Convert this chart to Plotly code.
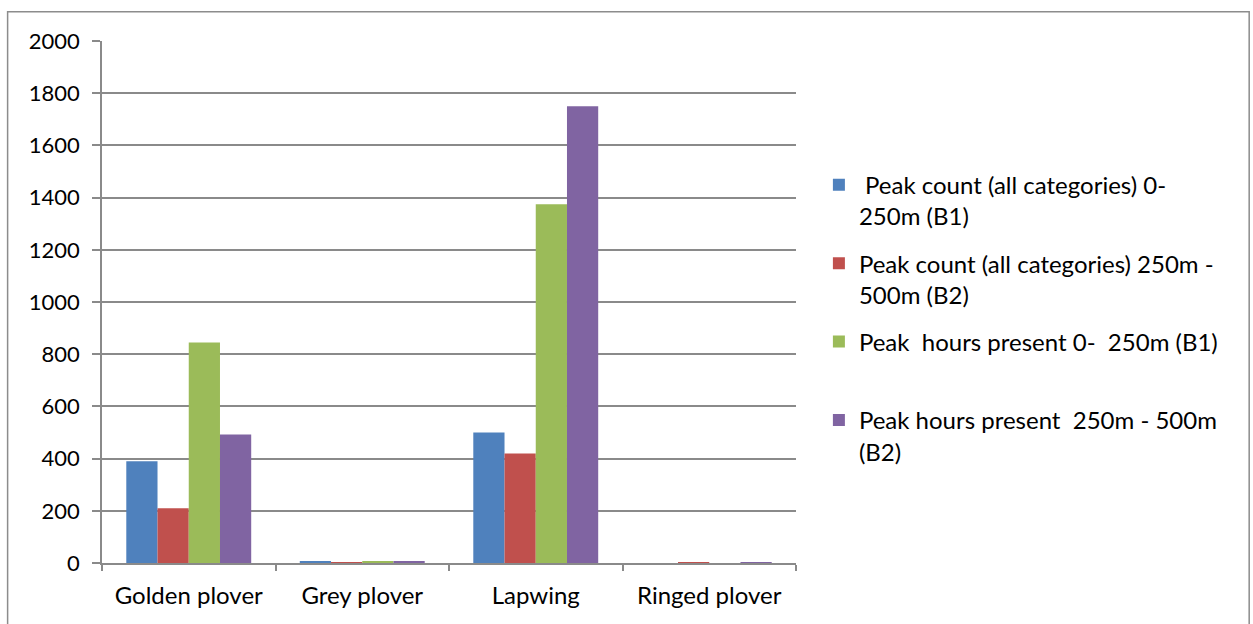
import plotly.graph_objects as go

species = ["Golden plover", "Grey plover", "Lapwing", "Ringed plover"]

count_b1 = [390, 5, 500, 0]
count_b2 = [210, 2, 420, 2]
hours_b1 = [845, 4, 1375, 0]
hours_b2 = [492, 7, 1750, 2]

series_names = [
    "\u00a0Peak count (all categories) 0-<br>250m (B1)",
    "Peak count (all categories) 250m -<br>500m (B2)",
    "Peak  hours present 0-  250m (B1)<br>\u00a0",
    "Peak hours present  250m - 500m<br>(B2)",
]
series_values = [count_b1, count_b2, hours_b1, hours_b2]
series_colors = ["#4F81BD", "#C0504D", "#9BBB59", "#8064A2"]

y_ticks = list(range(0, 2001, 200))

fig = go.Figure()
for i, (name, vals, col) in enumerate(zip(series_names, series_values, series_colors)):
    fig.add_trace(go.Bar(
        x=species, y=vals, name=name,
        marker=dict(color=col, line=dict(width=0)),
        legendgroup=f"g{i}",
    ))

font_family = "Lato, 'Liberation Sans', sans-serif"
grid_col = "#8a8a8a"

fig.update_layout(
    width=1253, height=624,
    autosize=False,
    barmode="group",
    bargap=0.28,
    bargroupgap=0,
    paper_bgcolor="white",
    plot_bgcolor="white",
    margin=dict(l=102, r=457, t=41, b=61),
    font=dict(family=font_family, size=24, color="#000000"),
    showlegend=True,
    legend=dict(
        x=1.033, y=0.469, xanchor="left", yanchor="middle",
        traceorder="grouped",
        valign="top",
        tracegroupgap=13,
        itemsizing="constant",
        font=dict(family=font_family, size=24, color="#000000"),
        bgcolor="rgba(0,0,0,0)",
    ),
    xaxis=dict(
        type="category",
        showline=True, linecolor=grid_col, linewidth=1.5,
        ticks="outside", tickson="boundaries", ticklen=6,
        tickcolor=grid_col, tickwidth=1.5,
        showgrid=False,
        ticklabelstandoff=10,
        tickfont=dict(size=24),
    ),
    yaxis=dict(
        range=[0, 2000],
        tickvals=y_ticks,
        showline=True, linecolor=grid_col, linewidth=1.5,
        ticks="outside", ticklen=8, tickcolor=grid_col, tickwidth=1.5,
        showgrid=True, gridcolor=grid_col, gridwidth=1.5,
        zeroline=False,
        ticklabelstandoff=8,
        tickfont=dict(size=22),
    ),
    shapes=[dict(
        type="rect", xref="paper", yref="paper",
        x0=-0.136, x1=1.653, y0=-0.2, y1=1.056,
        line=dict(color="#8c8c8c", width=1.5),
        fillcolor="rgba(0,0,0,0)", layer="below",
    )],
)

fig.write_html("out.html")
